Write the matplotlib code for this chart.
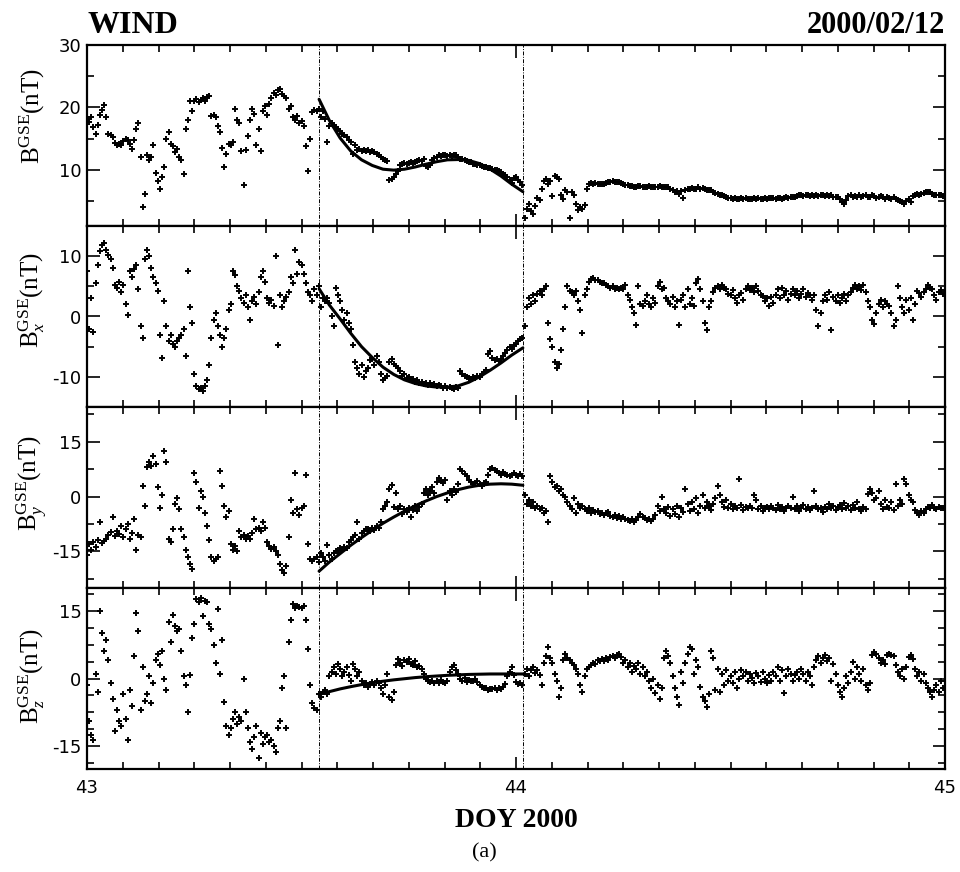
import numpy as np
import matplotlib
matplotlib.use("Agg")
import matplotlib.pyplot as plt
from matplotlib.ticker import FixedLocator

plt.rcParams["axes.unicode_minus"] = False
plt.rcParams["mathtext.fontset"] = "custom"
plt.rcParams["mathtext.rm"] = "Liberation Serif"
plt.rcParams["mathtext.it"] = "Liberation Serif:italic"
plt.rcParams["mathtext.bf"] = "Liberation Serif:bold"

# Sample times: day-of-year 2000, one sample every 0.005 day (7.2 min)
T_START = 43.0
T_STEP = 0.005

# Magnetic field magnitude |B| (nT)
B_MAG = [
    18.2, 17.6, 18.5, 16.8, 15.8, 17.2, 18.8, 19.6, 20.4, 18.4,
    15.8, 15.6, 15.2, 14.3, 13.9, 14.2, 14.0, 14.6, 15.0, 14.7,
    14.2, 13.3, 14.8, 16.5, 17.5, 12.0, 4.1, 6.2, 12.3, 11.6,
    12.0, 14.0, 9.5, 8.2, 7.0, 8.8, 10.4, 15.0, 16.0, 14.2,
    13.8, 12.8, 13.4, 12.0, 11.5, 9.3, 16.5, 18.0, 21.0, 19.5,
    21.0, 21.4, 20.8, 21.2, 21.5, 21.0, 21.6, 21.9, 18.6, 18.8,
    18.5, 17.0, 16.0, 13.5, 10.5, 12.5, 14.2, 14.0, 14.4, 19.8,
    18.0, 17.5, 13.0, 7.5, 13.2, 15.4, 18.0, 19.8, 19.0, 14.0,
    16.5, 13.0, 19.5, 20.2, 18.8, 20.5, 21.5, 22.3, 22.0, 22.8,
    23.0, 22.2, 21.8, 21.5, 19.8, 20.3, 18.5, 18.0, 18.6, 17.5,
    17.8, 17.0, 13.8, 9.8, 15.0, 19.3, 19.6, 19.5, 19.8, 18.5,
    19.5, 18.2, 14.5, 17.0, 17.5, 17.2, 16.8, 16.5, 16.2, 15.8,
    15.5, 15.2, 14.8, 14.5, 12.6, 14.0, 13.2, 13.4, 13.0, 13.1,
    13.0, 13.1, 12.9, 13.0, 12.8, 12.6, 12.4, 12.0, 11.8, 11.6,
    11.4, 8.3, 8.6, 8.9, 9.3, 9.8, 10.8, 11.0, 11.1, 11.0,
    11.1, 11.2, 11.1, 11.3, 11.4, 11.5, 11.4, 11.8, 10.6, 10.4,
    10.8, 11.5, 11.9, 12.1, 12.3, 12.2, 12.4, 12.3, 12.2, 12.3,
    12.2, 12.4, 12.3, 12.0, 11.8, 11.8, 11.5, 11.4, 11.3, 11.2,
    11.0, 11.0, 10.8, 10.7, 10.6, 10.5, 10.5, 10.3, 10.3, 10.2,
    10.0, 9.9, 9.8, 9.6, 9.4, 9.1, 8.8, 8.3, 7.9, 8.7,
    8.8, 8.4, 8.1, 7.6, 2.3, 3.8, 4.6, 3.4, 3.0, 4.2,
    5.5, 5.2, 7.0, 8.2, 8.6, 7.8, 8.2, 5.8, 9.0, 8.8,
    8.5, 6.0, 5.4, 6.8, 6.4, 2.3, 6.5, 6.0, 4.5, 3.6,
    4.0, 3.8, 4.3, 7.0, 7.8, 7.9, 7.8, 7.9, 7.8, 7.7,
    7.7, 7.8, 7.9, 8.0, 8.1, 8.2, 8.1, 8.0, 8.1, 7.9,
    7.8, 7.6, 7.5, 7.4, 7.4, 7.3, 7.3, 7.4, 7.4, 7.3,
    7.3, 7.3, 7.4, 7.3, 7.2, 7.3, 7.3, 7.4, 7.3, 7.2,
    7.2, 7.2, 7.0, 6.8, 6.4, 6.6, 6.2, 6.6, 5.5, 6.8,
    6.9, 7.0, 7.1, 6.9, 7.0, 7.2, 7.0, 7.1, 7.0, 6.8,
    6.8, 6.7, 6.5, 6.3, 6.2, 6.0, 5.9, 5.8, 5.6, 5.5,
    5.5, 5.4, 5.5, 5.4, 5.4, 5.5, 5.4, 5.5, 5.4, 5.4,
    5.4, 5.5, 5.4, 5.5, 5.4, 5.4, 5.5, 5.4, 5.5, 5.5,
    5.5, 5.4, 5.5, 5.5, 5.4, 5.5, 5.6, 5.5, 5.6, 5.7,
    5.7, 5.8, 5.9, 5.9, 5.8, 5.9, 5.9, 5.8, 5.9, 5.8,
    5.9, 5.8, 5.9, 5.9, 5.8, 5.9, 5.8, 5.9, 5.7, 5.6,
    5.6, 5.3, 4.9, 4.5, 5.2, 5.8, 5.9, 5.6, 5.8, 5.7,
    5.9, 5.6, 5.8, 6.0, 5.7, 5.6, 5.9, 5.8, 5.5, 5.7,
    5.8, 5.6, 5.4, 5.7, 5.5, 5.3, 5.6, 5.4, 5.2, 5.0,
    4.8, 4.6, 5.0, 5.3, 4.9, 5.8, 6.0, 6.1, 6.0, 6.2,
    6.3, 6.5, 6.5, 6.4, 6.2, 6.0, 6.0, 5.9, 5.9, 5.8,
]

# Bx in GSE (nT)
BX = [
    7.5, -2.0, 3.0, -2.6, 5.5, 8.5, 10.8, 11.8, 12.2, 11.0,
    10.2, 9.5, 8.0, 5.2, 4.8, 5.8, 4.0, 5.2, 2.0, 0.2,
    7.5, 6.5, 7.8, 8.6, 4.5, -1.5, -3.5, 9.5, 11.0, 10.0,
    8.0, 6.5, 5.5, 4.2, -3.0, -6.9, 2.5, -1.5, -4.0, -3.0,
    -4.5, -5.0, -4.0, -3.5, -3.0, -2.0, -6.5, 7.5, 1.5, -1.0,
    -9.5, -11.5, -12.0, -11.8, -12.3, -11.5, -10.5, -8.0, -3.5, -0.5,
    0.5, -1.5, -3.0, -5.0, -3.5, -2.0, 1.0, 2.0, 7.5, 6.8,
    5.0, 4.2, 3.0, 2.2, 3.5, 1.5, -0.5, 2.5, 3.2, 2.0,
    4.0, 6.5, 7.5, 5.8, 3.0, 2.2, 2.8, 1.8, 10.0, -4.8,
    3.5, 1.5, 2.5, 3.2, 4.0, 6.5, 5.5, 11.0, 7.0, 9.0,
    8.5, 7.0, 5.5, 4.0, 3.5, 2.5, 4.5, 3.5, 5.0, 1.5,
    3.0, 2.5, 3.0, 2.2, 0.0, -1.5, 4.8, 3.5, 2.5, 1.0,
    -0.5, 0.5, -1.0, -2.0, -4.7, -7.5, -8.5, -9.5, -8.0, -10.0,
    -9.0, -8.5, -7.2, -7.0, -8.0, -6.5, -7.5, -9.5, -10.5, -10.2,
    -9.8, -7.5, -7.0, -7.8, -8.2, -8.5, -9.0, -9.8, -9.5, -10.2,
    -10.0, -10.5, -10.3, -10.8, -10.6, -11.0, -10.8, -11.2, -11.0, -11.3,
    -11.0, -11.4, -11.2, -11.6, -11.3, -11.5, -11.8, -11.6, -11.9, -11.7,
    -11.8, -12.0, -11.7, -11.9, -9.0, -9.5, -9.8, -10.0, -10.2, -10.3,
    -10.0, -10.2, -9.8, -10.0, -9.6, -9.2, -8.8, -6.2, -5.8, -6.8,
    -7.2, -7.0, -7.4, -7.0, -6.6, -6.0, -5.5, -5.0, -5.4, -4.8,
    -4.5, -4.0, -3.8, -3.5, -1.5, 1.5, 3.0, 2.0, 3.5, 2.5,
    3.8, 4.2, 3.6, 4.5, 5.0, -1.0, -3.8, -5.0, -7.5, -8.5,
    -7.8, -5.5, -2.0, 1.5, 5.0, 4.2, 4.0, 3.5, 4.2, 2.5,
    1.0, -2.8, 3.5, 4.5, 5.8, 6.2, 6.3, 6.1, 6.0, 5.8,
    5.6, 5.5, 5.2, 5.0, 4.8, 5.0, 4.6, 4.8, 4.5, 4.7,
    4.5, 5.2, 3.5, 2.8, 1.5, 0.5, -1.4, 5.0, 2.0, 1.8,
    2.5, 3.5, 2.0, 1.6, 3.0, 2.2, 5.0, 5.8, 4.5, 4.8,
    3.0, 2.5, 2.0, 3.2, 1.6, 2.5, -1.4, 2.8, 3.5, 1.5,
    4.5, 2.0, 3.0, 1.8, 5.5, 6.2, 4.5, 2.5, -1.0, -2.2,
    1.5, 2.5, 4.0, 4.8, 5.0, 4.6, 5.2, 4.8, 4.5, 3.8,
    3.6, 4.4, 3.0, 2.2, 3.5, 3.9, 2.8, 4.5, 5.0, 4.4,
    4.8, 4.0, 5.0, 4.2, 3.6, 3.4, 2.5, 3.0, 1.8, 3.2,
    2.2, 3.5, 4.5, 3.0, 4.7, 3.5, 4.2, 2.8, 3.8, 4.5,
    3.5, 4.2, 3.0, 3.8, 4.5, 3.2, 3.9, 3.5, 2.8, 3.6,
    1.0, -1.5, 0.5, 2.5, 3.5, 2.8, 4.0, -2.2, 3.2, 2.5,
    3.5, 2.2, 3.0, 3.8, 2.5, 3.5, 4.0, 4.8, 5.2, 4.5,
    5.0, 4.4, 5.2, 4.0, 2.5, 1.5, -0.5, -1.2, 0.5, 2.0,
    2.8, 1.6, 2.5, 2.0, 1.8, 0.5, -1.5, -0.5, 5.0, 3.0,
    1.5, 0.5, 2.8, 1.0, 3.0, -0.5, 2.0, 4.2, 3.9, 3.2,
    4.0, 4.6, 5.2, 4.8, 4.5, 3.5, 2.8, 4.0, 4.4, 3.8,
]

# By in GSE (nT)
BY = [
    -16.0, -13.0, -14.5, -12.5, -13.8, -12.0, -7.0, -12.8, -12.2, -11.5,
    -10.5, -9.8, -5.5, -10.8, -9.5, -10.2, -8.0, -11.0, -9.0, -7.5,
    -11.5, -10.0, -6.0, -14.5, -10.5, -11.0, 3.0, -2.5, 8.0, 9.5,
    8.5, 11.0, 8.8, 2.5, -3.0, 0.5, 12.5, 9.5, -11.5, -12.5,
    -9.0, -2.0, -0.5, -3.5, -9.0, -11.0, -14.5, -16.5, -18.5, -19.8,
    6.5, 4.0, -3.0, 1.5, 0.0, -4.5, -8.0, -12.0, -16.5, -17.5,
    -17.0, -16.5, 7.0, 3.0, -2.5, -5.5, -4.0, -13.0, -14.5, -13.5,
    -15.0, -9.5, -11.0, -10.5, -11.5, -10.8, -11.5, -10.0, -6.0, -9.0,
    -8.5, -9.5, -7.0, -8.5, -12.5, -13.5, -14.2, -13.8, -15.0, -16.0,
    -18.5, -20.0, -21.0, -19.0, -11.0, -1.0, -4.5, 6.5, -3.5, -5.0,
    -3.0, -2.5, 6.0, -13.0, -17.0, -17.5, -17.0, -16.5, -17.8, -15.5,
    -16.5, -17.5, -13.2, -16.0, -17.0, -15.5, -14.8, -15.2, -14.0, -14.5,
    -13.8, -14.0, -12.5, -12.0, -11.0, -10.5, -6.9, -11.5, -10.0, -9.5,
    -9.0, -8.8, -9.5, -8.5, -9.2, -8.0, -8.5, -7.0, -3.5, -2.5,
    -1.5, 2.0, 3.2, -2.8, 1.0, -3.5, -2.5, -4.8, -3.5, -4.2,
    -3.0, -5.5, -3.8, -2.5, -4.0, -2.8, -2.0, 1.0, 2.0, 0.5,
    1.5, 2.5, 1.0, 4.0, 5.0, 4.2, 3.8, 4.5, -1.0, 1.5,
    0.5, 2.0, 1.2, 3.5, 7.5, 7.0, 6.2, 5.5, 4.5, 4.0,
    3.5, 3.8, 4.2, 3.5, 3.0, 3.6, 4.0, 5.8, 7.5, 7.8,
    7.2, 7.0, 6.5, 6.0, 6.6, 6.2, 5.8, 5.5, 6.0, 6.4,
    6.0, 5.6, 6.2, 5.5, 0.5, -2.0, -1.0, -2.5, -1.5, -3.0,
    -2.5, -3.5, -3.0, -4.5, -4.0, -6.9, 5.5, 4.0, 2.5, 3.0,
    1.5, 2.0, 0.5, 0.0, -1.5, -2.5, -3.5, -0.5, -4.5, -2.0,
    -3.0, -2.5, -3.5, -4.0, -3.2, -4.5, -3.8, -4.2, -4.0, -4.8,
    -4.5, -5.0, -4.6, -4.2, -5.2, -5.5, -5.0, -5.8, -5.4, -6.0,
    -5.6, -6.2, -6.5, -6.8, -6.2, -6.9, -6.5, -5.5, -4.8, -5.5,
    -5.8, -6.5, -6.2, -6.6, -6.0, -5.0, -2.5, -4.0, 0.0, -3.5,
    -4.5, -2.8, -5.2, -3.5, -4.8, -2.5, -5.5, -3.0, -4.2, 2.0,
    -2.0, -4.0, -1.5, -3.5, -0.5, -4.5, -2.5, 0.3, -3.0, -1.5,
    -2.5, -3.8, -2.0, -0.5, 3.0, 0.5, -1.5, -2.8, -1.0, -3.2,
    -2.0, -3.5, -2.5, -3.0, 4.7, -2.2, -3.8, -2.8, -3.0, -2.5,
    -3.0, 0.3, -1.0, -3.5, -2.5, -4.0, -3.2, -2.8, -3.5, -2.5,
    -3.0, -3.8, -2.2, -3.5, -2.8, -4.0, -3.0, -2.5, -3.2, 0.0,
    -3.5, -2.5, -4.0, -3.0, -2.2, -3.5, -2.8, -3.8, -3.0, 1.5,
    -2.5, -3.5, -3.0, -4.2, -2.8, -3.5, -2.0, -3.2, -2.5, -3.8,
    -2.8, -2.2, -3.5, -1.8, -3.0, -2.5, -3.8, -2.2, -3.0, -1.5,
    -3.5, -4.0, -2.8, -3.5, 0.7, 2.0, 1.0, -1.0, -0.5, 1.5,
    -2.0, -3.5, -1.0, -2.8, -3.0, -1.5, -3.8, 3.4, -2.5, -1.0,
    -2.0, 4.7, 3.5, 0.5, -1.0, -1.5, -3.8, -4.5, -5.1, -4.0,
    -4.5, -3.5, -2.8, -3.2, -2.4, -3.0, -3.5, -2.8, -3.2, -3.0,
]

# Bz in GSE (nT)
BZ = [
    -1.5, -9.5, -12.5, -13.5, 1.0, -3.0, 15.0, 10.0, 6.0, 8.5,
    4.0, -1.0, -4.5, -11.5, -7.0, -9.5, -10.5, -3.5, -9.0, -13.5,
    -2.5, -6.0, 5.0, 14.5, 10.5, -7.0, 2.5, -5.0, -3.5, 0.5,
    -5.5, -1.0, 4.0, 5.5, 3.0, 6.0, 0.0, -2.5, 12.5, 8.0,
    14.0, 11.5, 10.5, 11.0, 6.0, 0.5, -1.5, -7.5, 0.8, 9.0,
    12.0, 17.5, 17.0, 17.8, 13.8, 17.2, 16.8, 12.0, 11.0, 7.5,
    3.5, 15.3, 1.0, 8.5, -5.3, -10.5, -12.5, -11.0, -9.0, -7.5,
    -10.0, -8.5, -9.5, 0.0, -7.5, -11.0, -14.0, -15.5, -13.0, -10.5,
    -17.5, -12.0, -14.5, -13.0, -12.5, -14.0, -13.5, -15.0, -16.2, -11.0,
    -9.5, -2.0, 0.5, -11.0, 8.0, 13.0, 16.5, 15.5, 16.0, 15.8,
    15.5, 16.0, 13.0, 6.5, -1.5, -5.5, -6.5, -7.0, -3.5, -4.0,
    -3.0, -2.5, -3.5, 0.5, 1.5, 2.5, 1.0, 3.2, 2.0, 0.5,
    1.5, 2.5, 0.8, -0.5, 3.3, 2.0, 0.5, 1.5, -0.5, -1.5,
    -1.0, -1.8, -1.2, -0.8, -1.5, -0.5, -1.0, -2.0, -3.5, -1.5,
    1.0, -4.0, -4.8, -3.0, 3.0, 4.2, 3.5, 2.8, 4.0, 3.6,
    4.3, 3.2, 3.0, 3.8, 2.5, 2.8, 2.0, 1.0, 0.0, -0.5,
    -0.8, -0.5, -1.0, -0.6, -0.9, -0.4, -0.8, -1.0, -0.5, 1.5,
    2.5, 3.0, 1.8, 1.0, 0.0, -0.5, 0.2, -0.8, -0.3, -0.6,
    -0.5, -0.2, -0.8, -1.5, -1.8, -2.0, -2.2, -2.5, -2.3, -2.4,
    -2.2, -2.5, -2.0, -2.3, -1.8, -1.2, 0.5, 1.5, 2.5, 0.8,
    -0.8, -1.2, -1.0, -1.4, 1.0, 2.0, 0.5, 1.8, 2.5, 1.2,
    1.8, 0.8, -1.5, 3.5, 5.0, 7.0, 4.5, 3.5, 1.0, -0.5,
    -4.0, -2.0, 4.0, 5.5, 4.5, 4.0, 3.5, 3.0, 2.2, 1.0,
    -1.5, -3.0, 0.5, 2.0, 2.5, 3.0, 3.5, 3.2, 4.0, 3.8,
    4.2, 3.8, 4.5, 4.0, 4.8, 5.0, 4.5, 5.2, 5.5, 4.8,
    3.5, 4.0, 2.5, 3.5, 1.5, 2.8, 2.0, 3.5, 1.0, 2.5,
    0.5, 1.5, -0.5, -2.0, 0.0, -3.3, -1.5, -4.5, -2.0, 4.5,
    6.0, 5.0, 3.5, 0.5, -2.0, -4.0, -5.9, 1.5, -1.0, 3.5,
    5.5, 7.0, 6.5, 1.0, 4.0, 2.5, -1.8, -4.0, -5.0, -6.3,
    -3.5, 6.0, 4.5, -2.5, 2.0, -3.0, 1.0, -1.5, 1.8, -0.5,
    0.5, -1.0, 1.5, -2.0, 0.0, 1.8, 0.5, 1.5, -0.5, 1.0,
    0.2, -1.0, 1.2, 0.5, -0.8, 1.5, 0.0, -1.0, 0.8, -0.5,
    1.5, 0.5, 2.5, -0.5, 1.8, -3.3, 0.5, 2.0, 1.0, -0.5,
    0.8, 1.5, 0.0, 2.0, 1.0, -0.5, 1.5, 0.5, -1.5, 2.5,
    4.0, 5.0, 3.5, 4.5, 5.2, 3.8, 4.5, -0.5, 3.3, 1.0,
    -1.5, -3.0, -4.0, -2.0, 0.5, -1.0, 1.5, 3.7, 0.0, 2.5,
    1.0, -0.5, 2.0, -1.5, -2.6, -1.0, 5.2, 5.9, 5.5, 4.5,
    3.5, 4.0, 3.3, 5.2, 5.5, 5.3, 5.0, 3.0, 1.5, 0.5,
    2.0, 0.0, 2.5, 4.8, 5.2, 4.4, 2.0, 0.5, 1.5, -0.5,
    1.0, -1.1, -2.0, -3.0, -4.0, -2.5, -1.5, -3.0, -0.5, -2.0,
]

# Boundaries of the fitted interval (DOY)
EVENT_START = 43.541
EVENT_END = 44.016

# Fitted model curves inside the interval
FIT_T = [43.541, 43.565, 43.59, 43.615, 43.64, 43.665, 43.69, 43.715, 43.74, 43.765,
         43.79, 43.815, 43.84, 43.865, 43.89, 43.915, 43.94, 43.965, 43.99, 44.016]
FIT_B = [21.3, 17.9, 15.1, 13.0, 11.6, 10.7, 10.1, 9.95, 10.1, 10.45,
         10.9, 11.3, 11.6, 11.65, 11.5, 11.0, 10.1, 9.0, 7.7, 6.5]
FIT_BX = [4.6, 1.9, -0.4, -2.8, -5.0, -6.8, -8.4, -9.6, -10.5, -11.1,
          -11.5, -11.7, -11.7, -11.5, -10.9, -10.0, -8.9, -7.7, -6.4, -5.2]
FIT_BY = [-20.4, -17.9, -15.6, -13.3, -11.2, -9.2, -7.3, -5.6, -4.0, -2.5,
          -1.2, 0.0, 1.0, 1.9, 2.6, 3.1, 3.4, 3.5, 3.4, 3.1]
FIT_BZ = [-3.5, -2.9, -2.3, -1.8, -1.35, -0.95, -0.6, -0.3, -0.05, 0.2,
          0.4, 0.55, 0.7, 0.8, 0.9, 0.95, 1.0, 1.0, 1.0, 1.0]

X_TICKS = [43, 44, 45]
X_TICK_LABELS = ["43", "44", "45"]

t = T_START + T_STEP * np.arange(len(B_MAG))

SERIF = "Liberation Serif"
panels = [
    dict(y=B_MAG, fit=FIT_B, ylim=(1, 30), major=[10, 20, 30], minor=[5, 15, 25],
         label=r"$\mathrm{B}^{\mathrm{GSE}}$(nT)", ly=116),
    dict(y=BX, fit=FIT_BX, ylim=(-15, 15), major=[-10, 0, 10], minor=[-5, 5],
         label=r"$\mathrm{B}_{x}^{\mathrm{GSE}}$(nT)", ly=300),
    dict(y=BY, fit=FIT_BY, ylim=(-25, 24.5), major=[-15, 0, 15],
         minor=[-22.5, -7.5, 7.5, 22.5],
         label=r"$\mathrm{B}_{y}^{\mathrm{GSE}}$(nT)", ly=483),
    dict(y=BZ, fit=FIT_BZ, ylim=(-20, 20), major=[-15, 0, 15],
         minor=[-18.75, -11.25, -7.5, -3.75, 3.75, 7.5, 11.25, 18.75],
         label=r"$\mathrm{B}_{z}^{\mathrm{GSE}}$(nT)", ly=676),
]

W, H = 960, 872
fig = plt.figure(figsize=(W / 100, H / 100), dpi=100)
left, right, top, bottom = 87 / W, 945 / W, 1 - 45 / H, 1 - 769 / H
ph = (top - bottom) / 4

x_minor = np.arange(43, 45.0001, 1 / 12)

for i, p in enumerate(panels):
    ax = fig.add_axes([left, top - (i + 1) * ph, right - left, ph])
    ax.plot(t, p["y"], linestyle="none", marker="+", ms=4.4, mew=1.4, color="black")
    ax.plot(FIT_T, p["fit"], color="black", lw=2.2, solid_capstyle="round")
    for xv in (EVENT_START, EVENT_END):
        ax.axvline(xv, color="black", lw=0.7, linestyle=(0, (4, 1.5, 1, 1.5)))
    ax.set_xlim(43, 45)
    ax.set_ylim(*p["ylim"])
    ax.xaxis.set_major_locator(FixedLocator(X_TICKS))
    ax.xaxis.set_minor_locator(FixedLocator(x_minor))
    ax.yaxis.set_major_locator(FixedLocator(p["major"]))
    ax.yaxis.set_minor_locator(FixedLocator(p["minor"]))
    ax.tick_params(which="both", direction="in", top=True, right=True, width=1.2,
                   labelsize=13, pad=7)
    ax.tick_params(which="major", length=9)
    ax.tick_params(which="minor", length=5)
    ax.tick_params(axis="y", which="major", pad=4)
    for s in ax.spines.values():
        s.set_linewidth(1.6)
    ax.set_yticklabels([f"{v:g}" for v in p["major"]])
    if i < 3:
        ax.set_xticklabels([])
    else:
        ax.set_xticklabels(X_TICK_LABELS)
    fig.text(32 / W, 1 - p["ly"] / H, p["label"], rotation=90, ha="center",
             va="center", fontsize=18, family=SERIF)

fig.text(87 / W, 1 - 33 / H, "WIND", ha="left", va="baseline", fontsize=23,
         family=SERIF, weight="bold")
fig.text(945 / W, 1 - 33 / H, "2000/02/12", ha="right", va="baseline", fontsize=22,
         family=SERIF, weight="bold")
fig.text(516 / W, 1 - 820 / H, "DOY 2000", ha="center", va="center", fontsize=20,
         family=SERIF, weight="bold")
fig.text(484 / W, 1 - 853 / H, "(a)", ha="center", va="center", fontsize=16,
         family=SERIF)

fig.savefig("out.png", dpi=100, facecolor="white")
